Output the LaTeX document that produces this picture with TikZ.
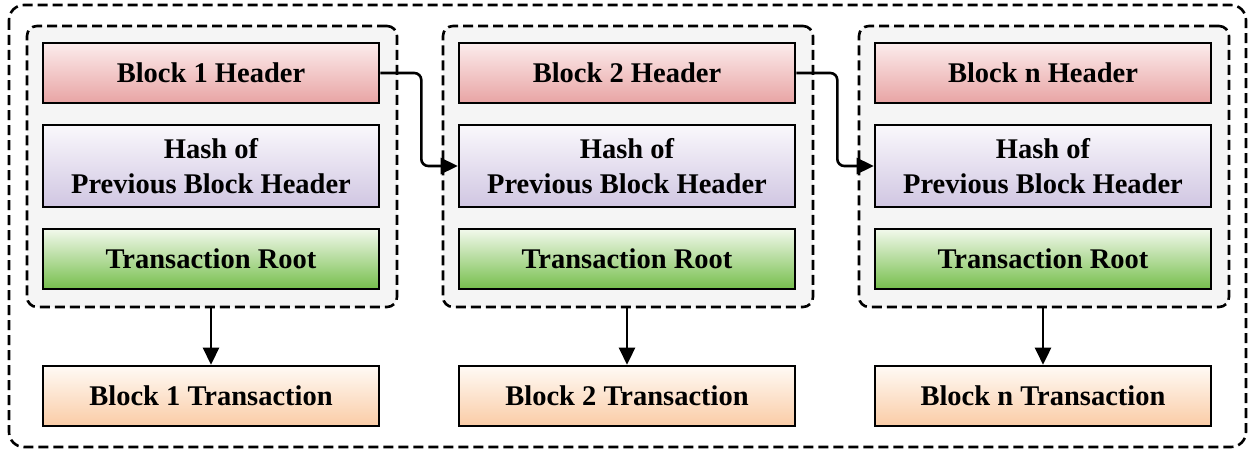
\documentclass[tikz,border=0pt]{standalone}
\usepackage{fontspec}
\setmainfont{Liberation Serif}
\usepackage{tikz}
\usetikzlibrary{positioning,calc,arrows.meta}

\definecolor{hdrtop}{RGB}{252,236,236}
\definecolor{hdrbot}{RGB}{232,164,164}
\definecolor{hashtop}{RGB}{250,248,252}
\definecolor{hashbot}{RGB}{208,198,226}
\definecolor{roottop}{RGB}{242,249,236}
\definecolor{rootmid}{RGB}{200,232,178}
\definecolor{rootbot}{RGB}{118,190,76}
\definecolor{txtop}{RGB}{255,250,245}
\definecolor{txbot}{RGB}{250,204,166}

\tikzset{
    basebox/.style={draw=black, line width=2.6pt, minimum width=336pt,
        font=\fontsize{28.5}{35}\selectfont\bfseries, align=center, inner sep=0pt},
    hdrbox/.style={basebox, minimum height=60pt, top color=hdrtop, bottom color=hdrbot},
    hashbox/.style={basebox, minimum height=82pt, top color=hashtop, bottom color=hashbot},
    rootbox/.style={basebox, minimum height=60pt, top color=roottop, middle color=rootmid, bottom color=rootbot},
    txbox/.style={basebox, minimum height=60pt, top color=txtop, bottom color=txbot},
    grpbox/.style={draw=black, line width=2.6pt, dash pattern=on 10pt off 5pt, rounded corners=10pt,
        fill=black!4, minimum width=370pt, minimum height=281pt, inner sep=0pt},
    flow/.style={line width=2.6pt, -{Triangle[length=17pt,width=16pt]}}
}

\begin{document}
\begin{tikzpicture}[x=1pt,y=-1pt]
    \useasboundingbox (0,0) rectangle (1255,452);
    % Outer frame
    \draw[line width=2.6pt, dash pattern=on 10pt off 5pt, rounded corners=15pt] (9,5) rectangle (1246,447);

    % Blocks
    \foreach \lab/\x in {1/211, 2/627, n/1043} {
        \node[grpbox] (grp\lab) at (\x+1,166.5) {};
        \node[hdrbox] (hdr\lab) at (\x,73) {Block \lab{} Header};
        \node[hashbox] (hash\lab) at (\x,166) {Hash of\\Previous Block Header};
        \node[rootbox] (root\lab) at (\x,259) {Transaction Root};
        \node[txbox] (tx\lab) at (\x,396) {Block \lab{} Transaction};
        \draw[flow] (grp\lab.south -| tx\lab.north) -- (tx\lab.north);
    }

    % Links between blocks
    \draw[flow, rounded corners=7pt] (hdr1.east) -- ++(41,0) |- (hash2.west);
    \draw[flow, rounded corners=7pt] (hdr2.east) -- ++(41,0) |- (hashn.west);
\end{tikzpicture}
\end{document}
